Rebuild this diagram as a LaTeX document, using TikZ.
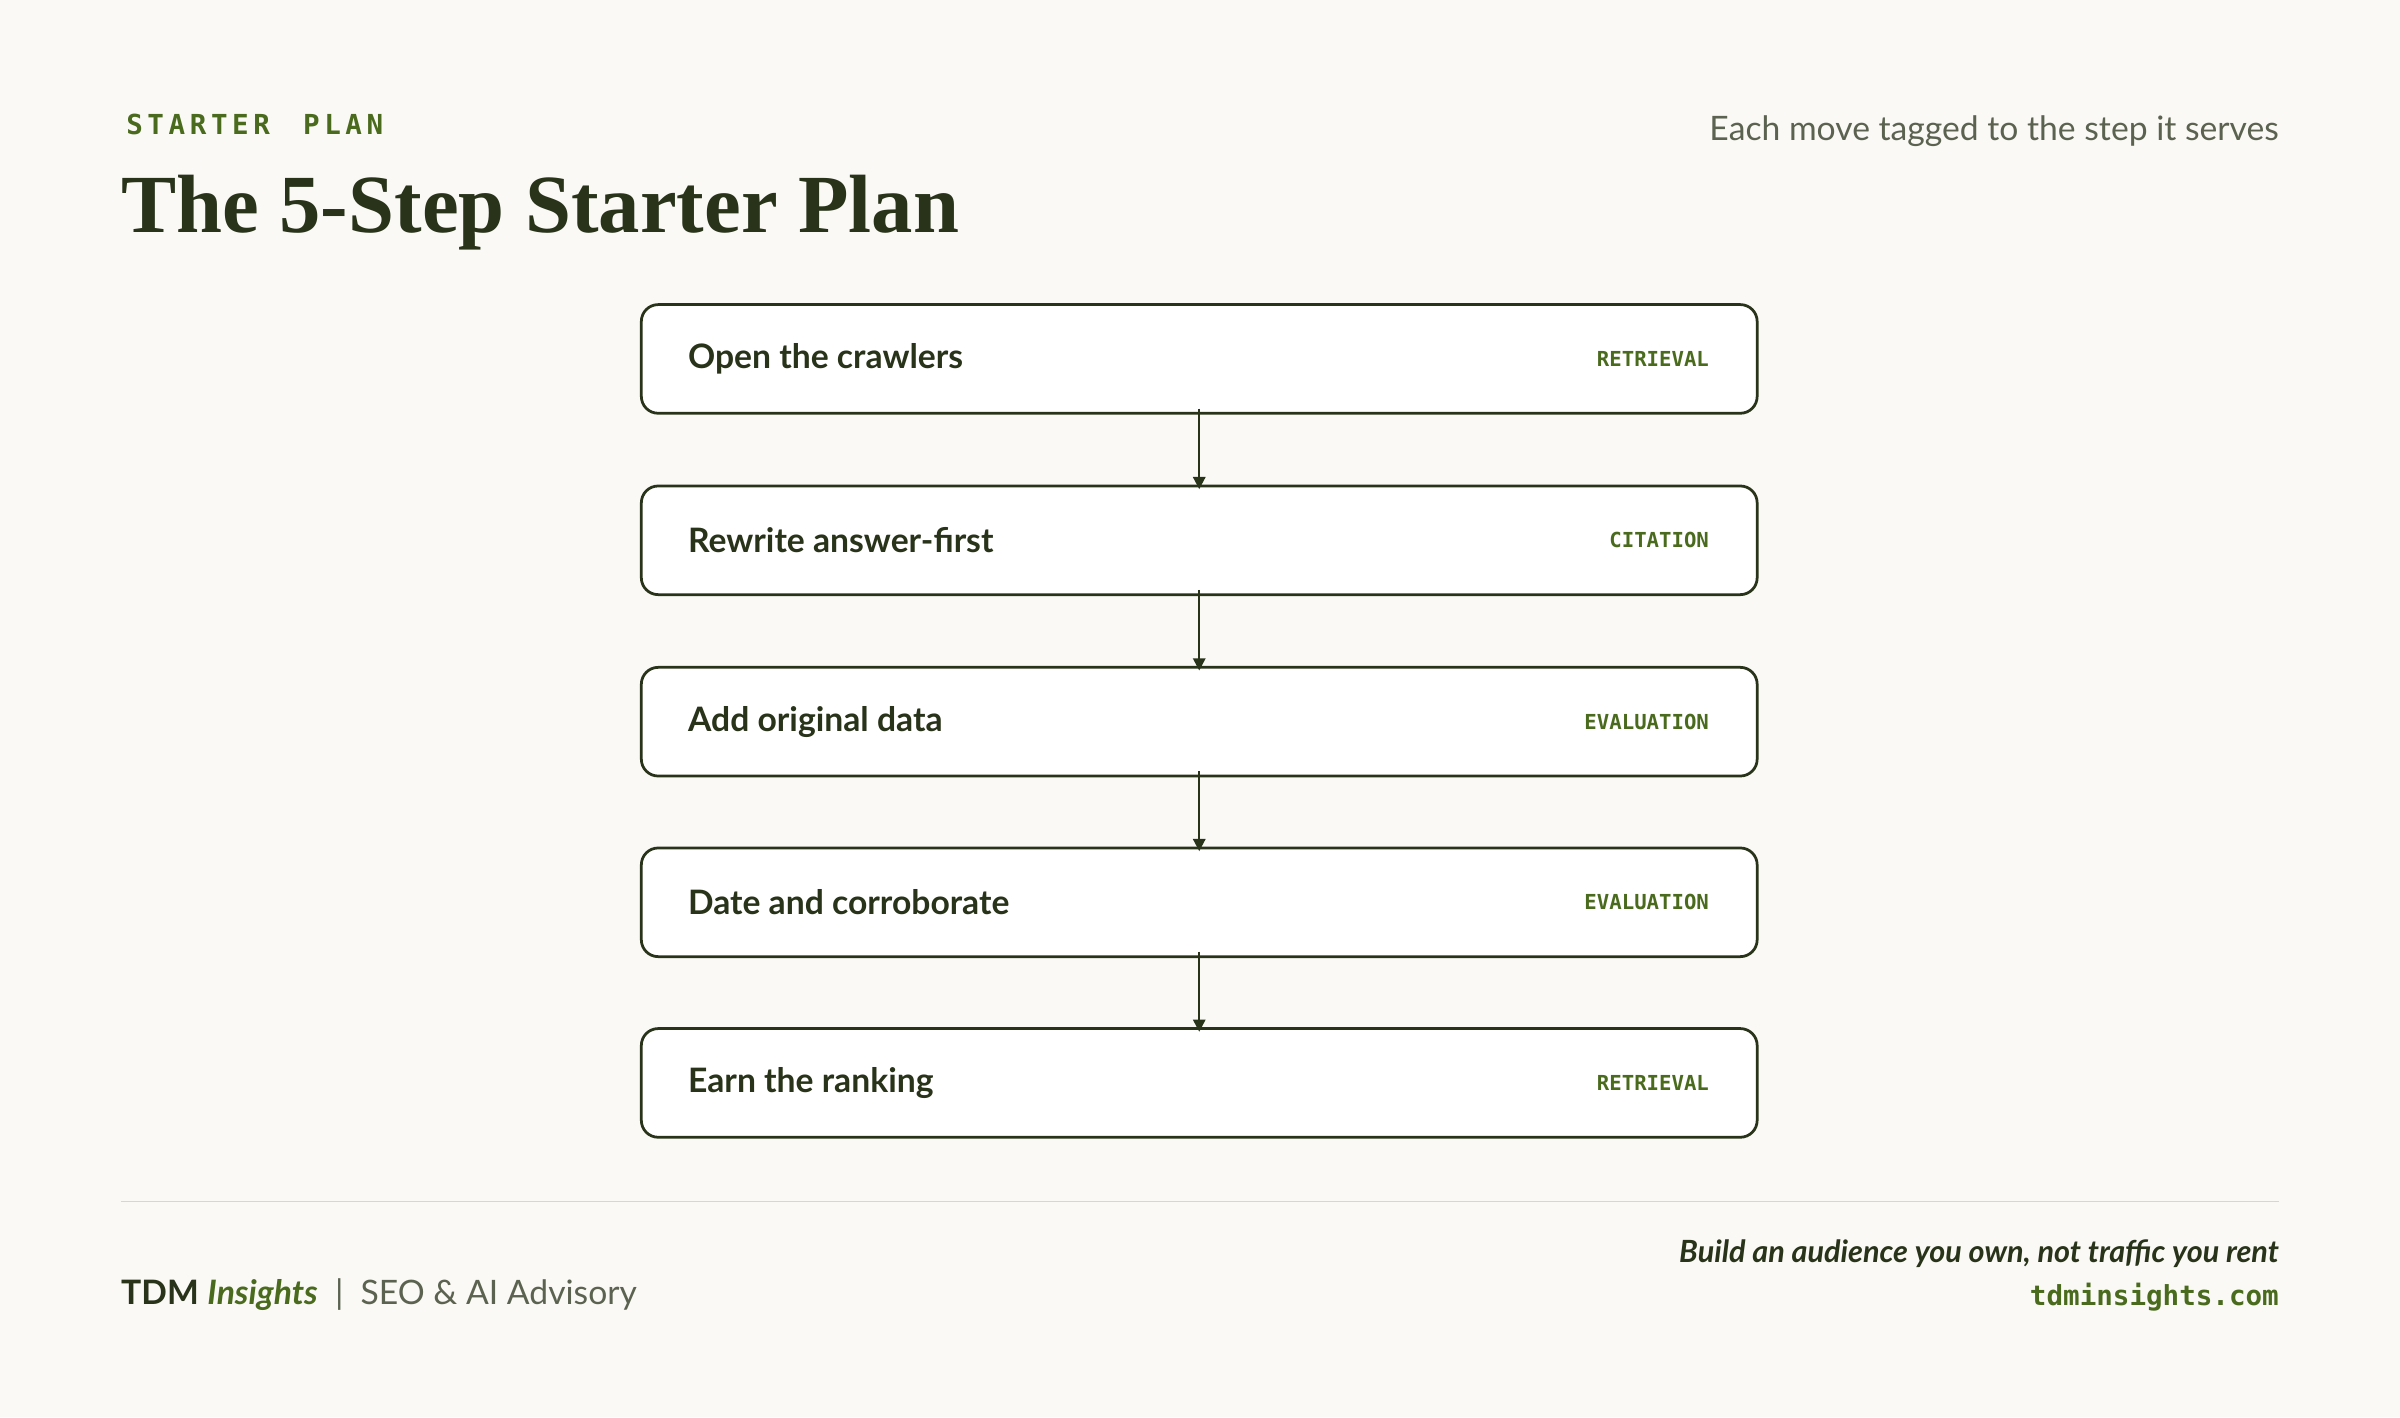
\documentclass[tikz,border=0pt]{standalone}
\usepackage{fontspec}
\setmainfont{Liberation Serif}
\setsansfont{Lato}
\setmonofont{DejaVu Sans Mono}
\usetikzlibrary{arrows.meta}
\definecolor{bg}{HTML}{FAF9F5}
\definecolor{dk}{HTML}{28331A}
\definecolor{gr}{HTML}{4A6B1E}
\definecolor{mut}{HTML}{5B6350}
\definecolor{rule}{HTML}{D8D6CE}
\begin{document}
\begin{tikzpicture}[x=1pt,y=-1pt,
  box/.style={draw=dk,line width=1.8pt,fill=white,rounded corners=11pt,minimum width=729pt,minimum height=71pt,inner sep=0},
  lbl/.style={anchor=west,font=\sffamily\bfseries\fontsize{22}{26}\selectfont,text=dk},
  tag/.style={anchor=east,font=\ttfamily\bfseries\fontsize{13.5}{16}\selectfont,text=gr},
  arr/.style={draw=dk,line width=1.6pt,-{Triangle[length=8pt,width=8pt]}}]
\fill[bg] (0,0) rectangle (1568,926);
\useasboundingbox (0,0) rectangle (1568,926);
\node[anchor=base west,font=\ttfamily\bfseries\fontsize{18}{20}\selectfont,text=gr] (kick) at (79,88) {S\,T\,A\,R\,T\,E\,R\ \ P\,L\,A\,N};
\node[anchor=base west,font=\bfseries\fontsize{54}{60}\selectfont,text=dk,inner sep=0] (title) at (79,152) {The 5-Step Starter Plan};
\node[anchor=base east,font=\sffamily\fontsize{22}{26}\selectfont,text=mut,inner sep=0] (sub) at (1489,92) {Each move tagged to the step it serves};
\foreach \i/\y/\t/\g in {1/234.5/Open the crawlers/RETRIEVAL,2/353/Rewrite answer-first/CITATION,3/471.5/Add original data/EVALUATION,4/589.5/Date and corroborate/EVALUATION,5/707.5/Earn the ranking/RETRIEVAL}{
  \node[box] (b\i) at (783.5,\y) {};
  \node[lbl] (l\i) at (449-3,\y) {\t};
  \node[tag] (t\i) at (1117+3,\y) {\g};
}
\foreach \a/\b in {1/2,2/3,3/4,4/5}{\draw[arr] ([yshift=4pt]b\a.south) -- ([yshift=-3pt]b\b.north);}
\coordinate (r1) at (79,785); \coordinate (r2) at (1489,785);
\draw[rule,line width=1pt] (r1) -- (r2);
\node[anchor=base west,font=\sffamily\fontsize{22}{26}\selectfont,text=mut,inner sep=0] (brand) at (79,852) {{\bfseries\color{dk}TDM} {\bfseries\itshape\color{gr}Insights}\ \ |\ \ SEO \& AI Advisory};
\node[anchor=base east,font=\sffamily\bfseries\itshape\fontsize{20}{24}\selectfont,text=dk,inner sep=0] (tag) at (1489,825) {Build an audience you own, not traffic you rent};
\node[anchor=base east,font=\ttfamily\bfseries\fontsize{18}{20}\selectfont,text=gr,inner sep=0] (url) at (1489,853) {tdminsights.com};
\end{tikzpicture}
\end{document}
